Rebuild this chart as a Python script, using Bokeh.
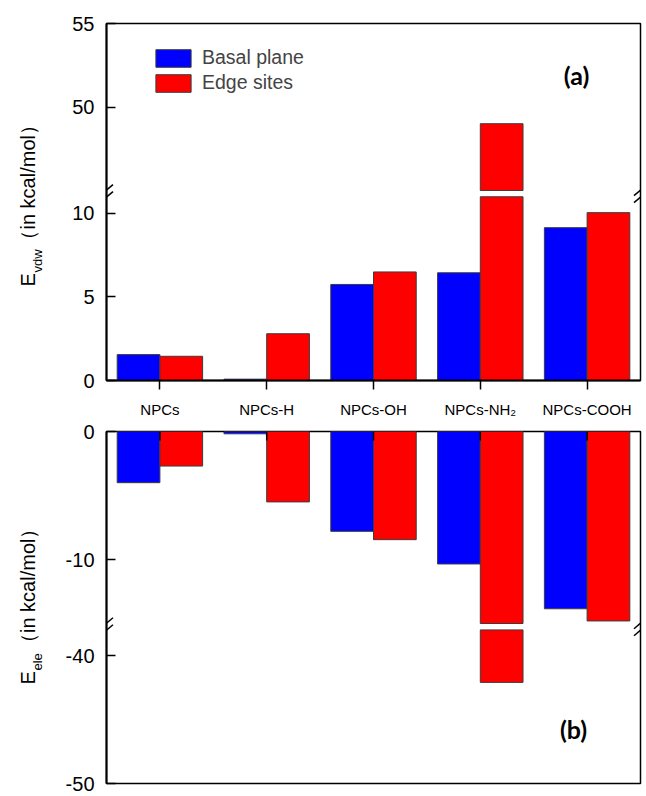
import math
from bokeh.plotting import figure
from bokeh.models import Range1d, FixedTicker, Label, Legend, LegendItem, Arrow
from bokeh.layouts import column, row
from bokeh.embed import file_html
from bokeh.resources import INLINE

# ---------------- data ----------------
categories = ["NPCs", "NPCs-H", "NPCs-OH", "NPCs-NH\u2082", "NPCs-COOH"]
vdw_basal = [1.55, 0.08, 5.75, 6.45, 9.15]
vdw_edge = [1.45, 2.8, 6.5, 49.0, 10.05]
ele_basal = [-4.0, -0.18, -7.8, -10.35, -13.85]
ele_edge = [-2.7, -5.5, -8.45, -42.1, -14.8]

series_names = ["Basal plane", "Edge sites"]
panel_tags = ["(a)", "(b)"]
title_subs = ["vdw", "ele"]
title_rest = "\uff08in kcal/mol\uff09"

# broken-axis segments
vdw_low = (0, 11)
vdw_high = (45, 55)
vdw_ticks_low = [0, 5, 10]
vdw_ticks_high = [50, 55]
ele_low = (-15, 0)
ele_high = (-50, -38)
ele_ticks_low = [0, -10]
ele_ticks_high = [-40, -50]

# ---------------- style / layout ----------------
FONT = "Liberation Sans"
BLUE = "#0000FF"
RED = "#FF0000"
EDGE = "#3c3c3c"

TW = 60                      # width of the strip holding the rotated axis titles
W = 583
ML, MR = 46, 3
FRAME_W = W - ML - MR
x_lo, x_hi = -0.5, len(categories) - 0.5
idx = list(range(len(categories)))
bar_w = 0.4
x_basal = [i - bar_w / 2 for i in idx]
x_edge = [i + bar_w / 2 for i in idx]
px_x = FRAME_W / (x_hi - x_lo)

A_TOP, A_FRAME, A_BOT = 23, 357, 40
B_TOP, B_FRAME, B_BOT = 11, 352, 12
H_A = A_TOP + A_FRAME + A_BOT
H_B = B_TOP + B_FRAME + B_BOT

gap_a = 0.375
a_end = (vdw_low[1] - vdw_low[0]) + gap_a + (vdw_high[1] - vdw_high[0])
a_high_start = vdw_high[0] - (vdw_low[1] + gap_a)
px_a = A_FRAME / a_end

gap_b = 0.5
b_start = ele_low[0] - gap_b - (ele_high[1] - ele_high[0])
b_shift = (ele_low[0] - gap_b) - ele_high[1]
px_b = B_FRAME / (0 - b_start)


def style_common(p):
    p.xgrid.visible = False
    p.ygrid.visible = False
    p.outline_line_color = "black"
    p.outline_line_width = 1.5
    p.background_fill_color = "white"
    p.border_fill_color = "white"


def style_yaxis(ax):
    ax.axis_line_width = 2
    ax.major_tick_in = 9
    ax.major_tick_out = 0
    ax.major_tick_line_width = 1.5
    ax.minor_tick_line_color = None
    ax.major_label_text_font = FONT
    ax.major_label_text_font_size = "20px"
    ax.major_label_text_color = "black"
    ax.major_label_standoff = 12


def add_break(p, xd, yd, ppy):
    for off in (-3.5, 3.5):
        p.add_layout(Arrow(end=None, x_start=xd - 6.5 / px_x, y_start=yd + (off - 5.5) / ppy,
                           x_end=xd + 6.5 / px_x, y_end=yd + (off + 5.5) / ppy,
                           line_width=1.5, line_color="black"))


# ---------------- panel (a) ----------------
p1 = figure(width=W, height=H_A,
            x_range=Range1d(x_lo, x_hi), y_range=Range1d(vdw_low[0], a_end),
            output_backend="svg", toolbar_location=None,
            min_border_left=ML, min_border_right=MR,
            min_border_top=A_TOP, min_border_bottom=A_BOT)
p1.extra_y_ranges = {"high": Range1d(a_high_start, vdw_high[1])}
style_common(p1)

rb1 = p1.vbar(x=x_basal, width=bar_w, bottom=0, top=[min(v, vdw_low[1]) for v in vdw_basal],
              fill_color=BLUE, line_color=EDGE, line_width=1)
re1 = p1.vbar(x=x_edge, width=bar_w, bottom=0, top=[min(v, vdw_low[1]) for v in vdw_edge],
              fill_color=RED, line_color=EDGE, line_width=1)
for xs, vals, col in ((x_basal, vdw_basal, BLUE), (x_edge, vdw_edge, RED)):
    hx = [x for x, v in zip(xs, vals) if v > vdw_high[0]]
    hv = [v for v in vals if v > vdw_high[0]]
    if hx:
        p1.vbar(x=hx, width=bar_w, bottom=vdw_high[0], top=hv, y_range_name="high",
                fill_color=col, line_color=EDGE, line_width=1)

a_ticks = [float(t) for t in vdw_ticks_low] + [t - a_high_start for t in vdw_ticks_high]
a_labels = [str(t) for t in vdw_ticks_low + vdw_ticks_high]
style_yaxis(p1.yaxis[0])
p1.yaxis[0].ticker = FixedTicker(ticks=a_ticks)
p1.yaxis[0].major_label_overrides = dict(zip(a_ticks, a_labels))

xa = p1.xaxis[0]
xa.ticker = FixedTicker(ticks=idx)
xa.major_label_overrides = dict(zip(idx, categories))
xa.axis_line_width = 2
xa.major_tick_in = 0
xa.major_tick_out = 9
xa.major_tick_line_width = 1.5
xa.minor_tick_line_color = None
xa.major_label_text_font = FONT
xa.major_label_text_font_size = "15px"
xa.major_label_text_color = "black"
xa.major_label_standoff = 11

legend = Legend(items=[LegendItem(label=series_names[0], renderers=[rb1]),
                       LegendItem(label=series_names[1], renderers=[re1])],
                location=(45, A_FRAME - 24 - 47), padding=0, margin=0, spacing=2,
                glyph_width=44, glyph_height=22, label_height=22, label_standoff=7,
                label_text_font=FONT, label_text_font_size="19.5px",
                border_line_color=None, background_fill_alpha=0)
p1.add_layout(legend)

p1.add_layout(Label(x=x_lo + 470 / px_x, y=(A_FRAME - 51) / px_a, text=panel_tags[0],
                    text_font="Lato", text_font_style="bold", text_font_size="25px",
                    text_color="black", text_align="center", text_baseline="middle"))

brk_a = vdw_low[1] + gap_a / 2
add_break(p1, x_lo, brk_a, px_a)
add_break(p1, x_hi, brk_a, px_a)

# ---------------- panel (b) ----------------
p2 = figure(width=W, height=H_B,
            x_range=Range1d(x_lo, x_hi), y_range=Range1d(b_start, ele_low[1]),
            output_backend="svg", toolbar_location=None, x_axis_location=None,
            min_border_left=ML, min_border_right=MR,
            min_border_top=B_TOP, min_border_bottom=B_BOT)
p2.extra_y_ranges = {"deep": Range1d(b_start - b_shift, ele_low[1] - b_shift)}
style_common(p2)

p2.vbar(x=x_basal, width=bar_w, top=0, bottom=[max(v, ele_low[0]) for v in ele_basal],
        fill_color=BLUE, line_color=EDGE, line_width=1)
p2.vbar(x=x_edge, width=bar_w, top=0, bottom=[max(v, ele_low[0]) for v in ele_edge],
        fill_color=RED, line_color=EDGE, line_width=1)
for xs, vals, col in ((x_basal, ele_basal, BLUE), (x_edge, ele_edge, RED)):
    hx = [x for x, v in zip(xs, vals) if v < ele_high[1]]
    hv = [v for v in vals if v < ele_high[1]]
    if hx:
        p2.vbar(x=hx, width=bar_w, top=ele_high[1], bottom=hv, y_range_name="deep",
                fill_color=col, line_color=EDGE, line_width=1)

# inward category ticks along the top edge of panel (b)
p2.segment(x0=idx, y0=[ele_low[1]] * len(idx), x1=idx,
           y1=[ele_low[1] - 9 / px_b] * len(idx), line_color="black", line_width=1.5)

b_ticks = [float(t) for t in ele_ticks_low] + [t + b_shift for t in ele_ticks_high]
b_labels = [str(t) for t in ele_ticks_low + ele_ticks_high]
style_yaxis(p2.yaxis[0])
p2.yaxis[0].ticker = FixedTicker(ticks=b_ticks)
p2.yaxis[0].major_label_overrides = dict(zip(b_ticks, b_labels))

p2.add_layout(Label(x=x_lo + 467 / px_x, y=b_start + 55 / px_b, text=panel_tags[1],
                    text_font="Lato", text_font_style="bold", text_font_size="25px",
                    text_color="black", text_align="center", text_baseline="middle"))

brk_b = ele_low[0] - gap_b / 2
add_break(p2, x_lo, brk_b, px_b)
add_break(p2, x_hi, brk_b, px_b)

# ---------------- rotated axis titles (own strip, pixel coordinates) ----------------
H_T = H_A + H_B
tfig = figure(width=TW, height=H_T, x_range=Range1d(0, TW), y_range=Range1d(H_T, 0),
              x_axis_location=None, y_axis_location=None, toolbar_location=None,
              output_backend="svg", min_border=0, outline_line_color=None)
tfig.grid.visible = False


def add_title(sub, sub_w, x_base, y_start):
    tfig.add_layout(Label(x=x_base, y=y_start, text="E", angle=math.pi / 2,
                          text_font=FONT, text_font_size="20px", text_color="black",
                          text_align="left", text_baseline="alphabetic"))
    tfig.add_layout(Label(x=x_base + 10, y=y_start - 14, text=sub, angle=math.pi / 2,
                          text_font=FONT, text_font_size="13px", text_color="black",
                          text_align="left", text_baseline="alphabetic"))
    tfig.add_layout(Label(x=x_base, y=y_start - 14 - sub_w, text=title_rest,
                          angle=math.pi / 2, text_font=FONT, text_font_size="20px",
                          text_color="black", text_align="left", text_baseline="alphabetic"))


add_title(title_subs[0], 23, 27, 286)
add_title(title_subs[1], 17.5, 27, 684)

layout = row(tfig, column(p1, p2, spacing=0), spacing=0)
open("out.html", "w").write(file_html(layout, INLINE))
